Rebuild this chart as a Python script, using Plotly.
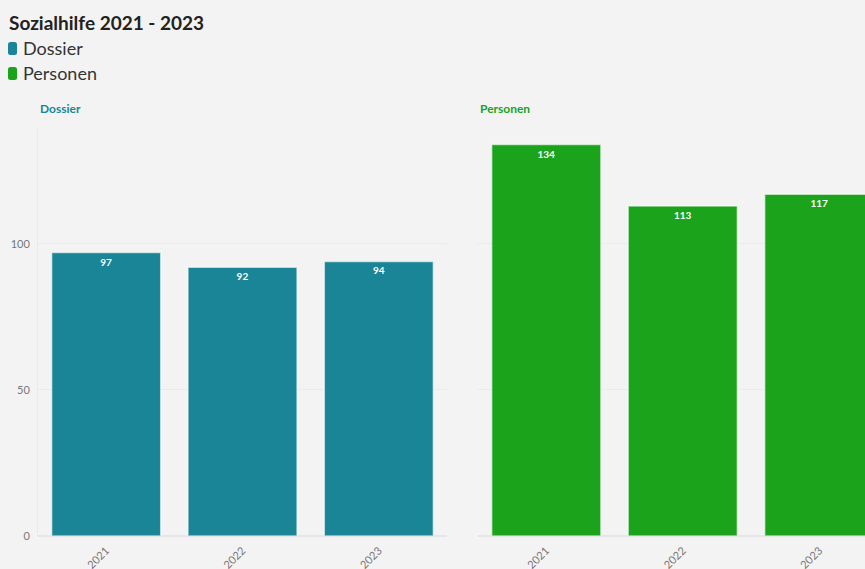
import plotly.graph_objects as go
from plotly.subplots import make_subplots

years = ["2021", "2022", "2023"]
dossier = [97, 92, 94]
personen = [134, 113, 117]
series_names = ["Dossier", "Personen"]
chart_title = "Sozialhilfe 2021 - 2023"

teal = "#1a8596"
green = "#1ba31c"
bg = "#f3f3f3"
font = "Lato"

W, H = 865, 569
ml, mr, mt, mb = 38, 0, 127, 33
pw = W - ml - mr
ph = H - mt - mb


def px_x(px):
    return (px - ml) / pw


def px_y(py):
    return (H - mb - py) / ph


def rounded_rect_path(x0, y0, x1, y1, r):
    # pixel coordinates converted to paper space, corners rounded by r px
    pts = []
    segs = [
        (f"M {px_x(x0 + r)},{px_y(y0)}"),
        (f"L {px_x(x1 - r)},{px_y(y0)}"),
        (f"Q {px_x(x1)},{px_y(y0)} {px_x(x1)},{px_y(y0 + r)}"),
        (f"L {px_x(x1)},{px_y(y1 - r)}"),
        (f"Q {px_x(x1)},{px_y(y1)} {px_x(x1 - r)},{px_y(y1)}"),
        (f"L {px_x(x0 + r)},{px_y(y1)}"),
        (f"Q {px_x(x0)},{px_y(y1)} {px_x(x0)},{px_y(y1 - r)}"),
        (f"L {px_x(x0)},{px_y(y0 + r)}"),
        (f"Q {px_x(x0)},{px_y(y0)} {px_x(x0 + r)},{px_y(y0)}"),
        "Z",
    ]
    pts.extend(segs)
    return " ".join(pts)


fig = make_subplots(rows=1, cols=2, shared_yaxes=True, horizontal_spacing=0.02)

for col, (vals, color, name) in enumerate(zip([dossier, personen], [teal, green], series_names), start=1):
    fig.add_trace(go.Bar(
        x=years, y=vals, name=name, text=vals, showlegend=False,
        marker=dict(color=color, line=dict(color="rgba(255,255,255,0.6)", width=1.5)),
        textposition="inside", insidetextanchor="end",
        textfont=dict(color="white", size=10, family=font, weight="bold"),
    ), row=1, col=col)

fig.update_layout(
    width=W, height=H,
    margin=dict(l=ml, r=mr, t=mt, b=mb, autoexpand=False),
    paper_bgcolor=bg, plot_bgcolor=bg,
    bargap=0.2,
    font=dict(family=font, color="#555"),
    showlegend=False,
    uniformtext=dict(minsize=8, mode="show"),
)

fig.update_xaxes(
    type="category", tickangle=-45, showgrid=False, zeroline=False,
    tickfont=dict(size=11, color="#777", family=font), ticks="",
    showline=False, automargin=False, ticklabelstandoff=5,
)
fig.update_xaxes(domain=[0, 409 / pw], range=[-0.5, 2.5], row=1, col=1)
fig.update_xaxes(domain=[px_x(478), 1], range=[-0.5, 2.335], row=1, col=2)

fig.update_yaxes(
    range=[0, 140], tickvals=[0, 50, 100], showgrid=True,
    gridcolor="#ebebeb", gridwidth=1, zeroline=True, zerolinecolor="#e6e6e6",
    tickfont=dict(size=11, color="#777", family=font), ticks="",
    showline=True, linecolor="#ebebeb", automargin=False, ticklabelstandoff=5,
)
fig.update_yaxes(showticklabels=False, showline=False, row=1, col=2)

# Panel headings
fig.add_annotation(text="<b>Dossier</b>", xref="paper", yref="paper",
                   x=px_x(38), y=px_y(109), xanchor="left", yanchor="middle", showarrow=False,
                   font=dict(size=12, color=teal, family=font))
fig.add_annotation(text="<b>Personen</b>", xref="paper", yref="paper",
                   x=px_x(478), y=px_y(109), xanchor="left", yanchor="middle",
                   showarrow=False, font=dict(size=12, color=green, family=font))

# Title and legend block
fig.add_annotation(text=f"<b>{chart_title}</b>", xref="paper", yref="paper",
                   x=px_x(7), y=px_y(22), xanchor="left", yanchor="middle", showarrow=False,
                   font=dict(size=19, color="#222", family=font))
for i, (name, color) in enumerate(zip(series_names, [teal, green])):
    cy = 48 + 25 * i
    fig.add_shape(type="path", xref="paper", yref="paper",
                  path=rounded_rect_path(8, cy - 6, 17, cy + 7, 2.5),
                  fillcolor=color, line=dict(width=0), layer="above")
    fig.add_annotation(text=name, xref="paper", yref="paper",
                       x=px_x(21), y=px_y(cy), xanchor="left", yanchor="middle",
                       showarrow=False, font=dict(size=18, color="#333", family=font))

fig.write_html("out.html")
